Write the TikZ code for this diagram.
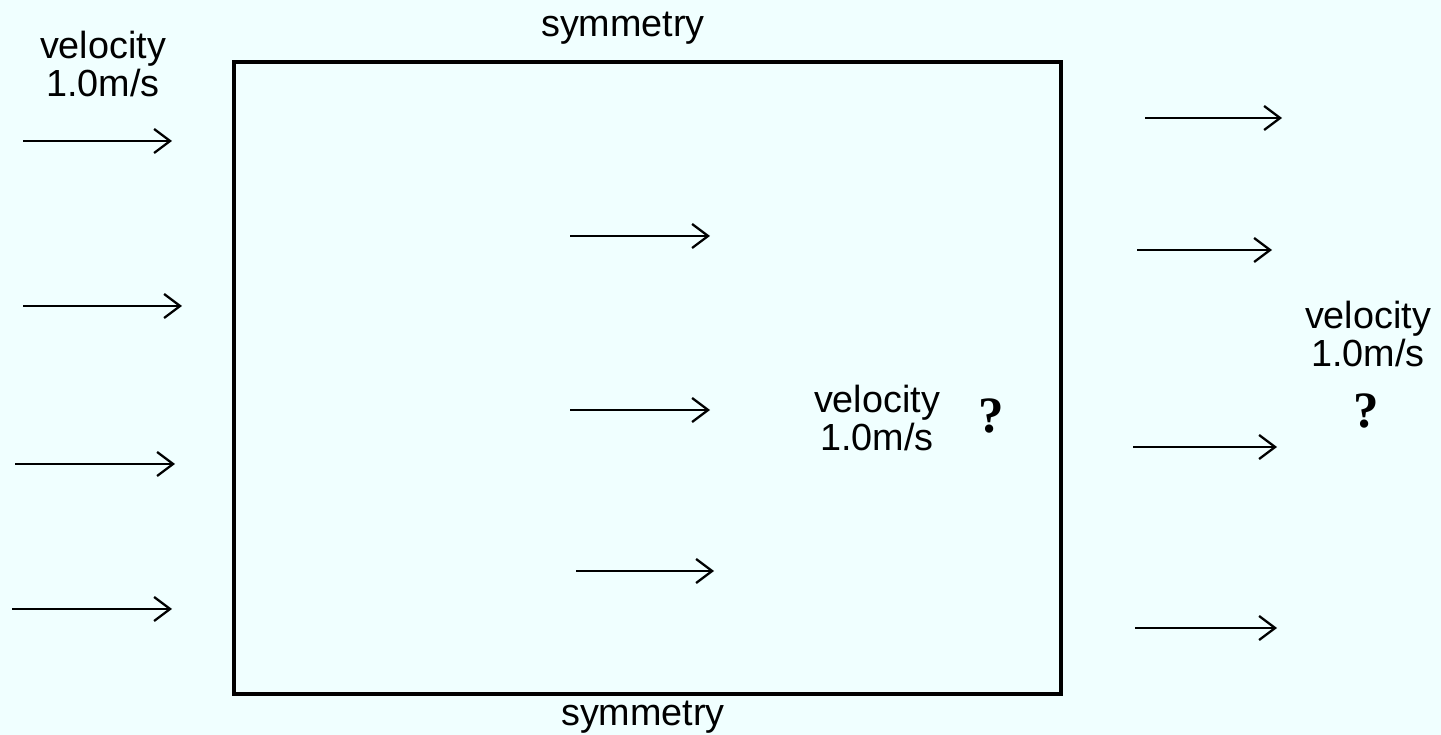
\documentclass[tikz,border=0pt]{standalone}
\usepackage{fontspec}
\setmainfont{Liberation Sans}
\newfontfamily\qmarkfont{Liberation Serif}
\usepackage{xcolor}
\definecolor{lightbg}{HTML}{F0FFFF}
\usetikzlibrary{arrows.meta, positioning}

\begin{document}
\begin{tikzpicture}[
  every node/.style={font=\fontsize{21.5}{22}\selectfont, inner sep=0pt},
  flowarrow/.style={line width=1.3pt, -{Straight Barb[length=3.2mm, width=4.8mm, line width=1.3pt]}},
  domainbox/.style={draw, line width=2pt},
  velolabel/.style={align=center},
  unknown/.style={font=\qmarkfont\bfseries\fontsize{29}{29}\selectfont}
]
  \fill[lightbg] (0,0) rectangle (28.82,14.7);
  \useasboundingbox (0,0) rectangle (28.82,14.7);

  % computational domain
  \coordinate (boxsw) at (4.68,0.82);
  \coordinate (boxne) at (21.22,13.46);
  \draw[domainbox] (boxsw) rectangle (boxne);
  \node (symtop) at (12.46,14.14) {symmetry};
  \node (symbot) at (12.86,0.36) {symmetry};

  % inlet arrows
  \foreach \i/\xa/\xb/\y in {1/0.46/3.44/11.88, 2/0.46/3.64/8.58, 3/0.30/3.50/5.42, 4/0.24/3.44/2.52} {
    \coordinate (inA\i) at (\xa,\y);
    \coordinate (inB\i) at (\xb,\y);
    \draw[flowarrow] (inA\i) -- (inB\i);
  }
  \node[velolabel] (inlabel) at (2.06,13.42) {velocity\\1.0m/s};

  % arrows inside the domain
  \foreach \i/\xa/\xb/\y in {1/11.40/14.20/9.98, 2/11.40/14.20/6.50, 3/11.52/14.28/3.28} {
    \coordinate (midA\i) at (\xa,\y);
    \coordinate (midB\i) at (\xb,\y);
    \draw[flowarrow] (midA\i) -- (midB\i);
  }
  \node[velolabel] (midlabel) at (17.54,6.34) {velocity\\1.0m/s};
  \node[unknown] (midq) at (19.82,6.38) {?};

  % outlet arrows
  \foreach \i/\xa/\xb/\y in {1/22.90/25.64/12.34, 2/22.74/25.44/9.70, 3/22.66/25.54/5.76, 4/22.70/25.54/2.14} {
    \coordinate (outA\i) at (\xa,\y);
    \coordinate (outB\i) at (\xb,\y);
    \draw[flowarrow] (outA\i) -- (outB\i);
  }
  \node[velolabel] (outlabel) at (27.36,8.02) {velocity\\1.0m/s};
  \node[unknown] (outq) at (27.32,6.48) {?};
\end{tikzpicture}
\end{document}
